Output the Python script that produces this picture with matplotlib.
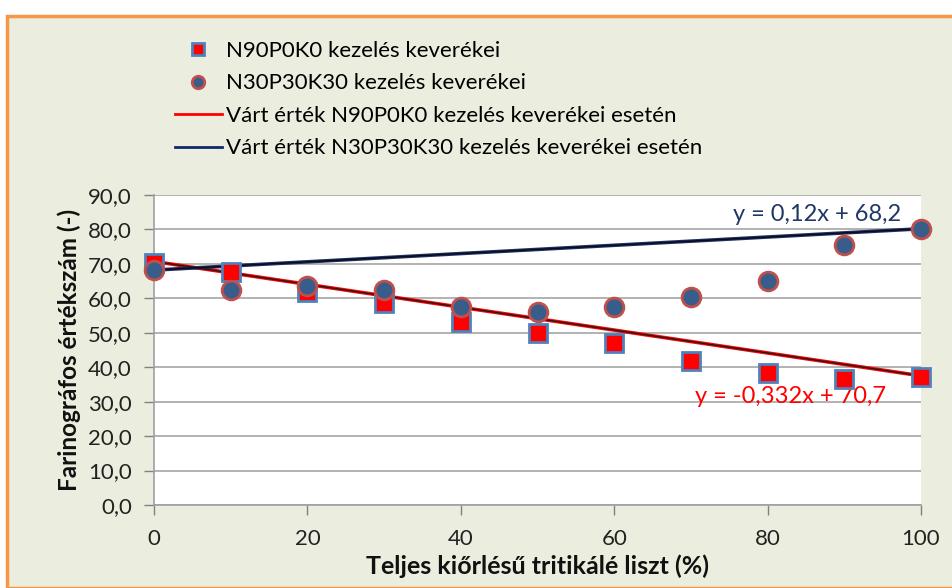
import matplotlib
matplotlib.use("Agg")
import matplotlib.pyplot as plt
import numpy as np
from matplotlib.lines import Line2D
from matplotlib.patches import Rectangle

plt.rcParams['font.family'] = ['Lato', 'DejaVu Sans']

x_vals = [0, 10, 20, 30, 40, 50, 60, 70, 80, 90, 100]
n90_vals = [70.3, 67.6, 61.8, 58.6, 53.1, 50.0, 47.0, 41.8, 38.3, 36.6, 37.2]
n30_vals = [68.2, 62.4, 63.6, 62.4, 57.5, 56.0, 57.5, 60.4, 65.0, 75.5, 80.1]
red_fit = [-0.332, 70.7]
blue_fit = [0.12, 68.2]
y_ticks = [0, 10, 20, 30, 40, 50, 60, 70, 80, 90]
x_ticks = [0, 20, 40, 60, 80, 100]
labels = ["N90P0K0 kezelés keverékei", "N30P30K30 kezelés keverékei",
          "Várt érték N90P0K0 kezelés keverékei esetén",
          "Várt érték N30P30K30 kezelés keverékei esetén"]
eq_red = "y = -0,332x + 70,7"
eq_blue = "y = 0,12x + 68,2"

bg = '#EBEEDE'
fig = plt.figure(figsize=(9.53, 5.88), dpi=100)
fig.patch.set_facecolor('white')
fig.patches.append(Rectangle((7/953, 0), 1.2, (588-16)/588, transform=fig.transFigure,
                             facecolor=bg, edgecolor='#F79646', linewidth=2.5, zorder=-10))

ax = fig.add_axes([154/953, (588-505)/588, (921-154)/953, (505-195)/588])
ax.set_facecolor('white')

xx = np.array([min(x_vals), max(x_vals)])
ax.plot(xx, np.polyval(red_fit, xx), color='#FF0000', lw=2.6, zorder=3)
ax.plot(xx, np.polyval(red_fit, xx), color='#1a1a1a', lw=1.0, zorder=3.1)
ax.plot(xx, np.polyval(blue_fit, xx), color='#1F2F5F', lw=2.6, zorder=3)
ax.plot(xx, np.polyval(blue_fit, xx), color='#0a0a1a', lw=1.0, zorder=3.1)

ax.plot(x_vals, n90_vals, ls='none', marker='s', ms=13.5, mfc='#FF0000', mec='#4F81BD',
        mew=2, zorder=4, clip_on=False)
ax.plot(x_vals, n30_vals, ls='none', marker='o', ms=13.5, mfc='#385D8A', mec='#C0504D',
        mew=2, zorder=5, clip_on=False)

ax.set_xlim(0, 100)
ax.set_ylim(0, 90)
ax.set_yticks(y_ticks)
ax.set_yticklabels([f"{v:.1f}".replace('.', ',') for v in y_ticks])
ax.set_xticks(x_ticks)
ax.tick_params(axis='both', labelsize=16, colors='#808080', labelcolor='#222222',
               length=7, width=1)
ax.tick_params(axis='x', pad=10)
ax.tick_params(axis='y', pad=9)
ax.grid(axis='y', color='#A6A6A6', lw=1.2)
ax.set_axisbelow(True)
for s in ['top', 'right']:
    ax.spines[s].set_visible(False)
for s in ['left', 'bottom']:
    ax.spines[s].set_color('#A0A0A0')
    ax.spines[s].set_linewidth(1.2)

ax.set_xlabel("Teljes kiőrlésű tritikálé liszt (%)", fontsize=18, fontweight='bold',
              color='#111111', labelpad=4)
ax.set_ylabel("Farinográfos értékszám (-)", fontsize=17.5, fontweight='bold',
              color='#111111', labelpad=5)

ax.text(97.4, np.polyval(blue_fit, 100) + 1.2, eq_blue, color='#1F3864', fontsize=17,
        ha='right', va='bottom')
ax.text(95.5, 31.5, eq_red, color='#FF0000', fontsize=17, ha='right', va='center')

handles = [
    Line2D([], [], ls='none', marker='s', ms=9, mfc='#FF0000', mec='#4F81BD', mew=2),
    Line2D([], [], ls='none', marker='o', ms=9, mfc='#385D8A', mec='#C0504D', mew=2),
    Line2D([], [], color='#FF0000', lw=2),
    Line2D([], [], color='#0F2A6B', lw=2),
]
fig.legend(handles, labels, loc='upper left', bbox_to_anchor=(175/953, 1 - 41/588),
           frameon=False, fontsize=16, handlelength=2.1, handletextpad=0.2,
           labelspacing=0.56, borderaxespad=0, borderpad=0)

fig.savefig('out.png', dpi=100, facecolor=fig.get_facecolor())
